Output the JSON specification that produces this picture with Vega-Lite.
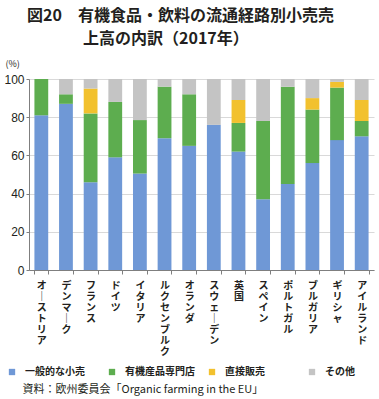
{
  "$schema": "https://vega.github.io/schema/vega-lite/v6.json",
  "width": 345,
  "height": 191,
  "autosize": {"type": "none"},
  "padding": {"left": 29, "top": 79, "right": 5, "bottom": 129},
  "background": "white",
  "title": {
    "text": ["図20　有機食品・飲料の流通経路別小売売", "\u200b\u3000\u3000\u3000\u2002上高の内訳（2017年）"],
    "anchor": "start",
    "frame": "group",
    "font": "Noto Sans CJK JP",
    "fontSize": 16,
    "fontWeight": "bold",
    "color": "#231f20",
    "lineHeight": 23,
    "dx": -2,
    "offset": 12
  },
  "config": {
    "font": "Noto Sans CJK JP",
    "view": {"stroke": null}
  },
  "data": {
    "values": [
      {"country": "オーストリア", "type": "一般的な小売", "k": 1, "value": 81},
      {"country": "オーストリア", "type": "有機産品専門店", "k": 2, "value": 19},
      {"country": "デンマーク", "type": "一般的な小売", "k": 1, "value": 87},
      {"country": "デンマーク", "type": "有機産品専門店", "k": 2, "value": 5},
      {"country": "デンマーク", "type": "その他", "k": 4, "value": 8},
      {"country": "フランス", "type": "一般的な小売", "k": 1, "value": 46},
      {"country": "フランス", "type": "有機産品専門店", "k": 2, "value": 36},
      {"country": "フランス", "type": "直接販売", "k": 3, "value": 13},
      {"country": "フランス", "type": "その他", "k": 4, "value": 5},
      {"country": "ドイツ", "type": "一般的な小売", "k": 1, "value": 59},
      {"country": "ドイツ", "type": "有機産品専門店", "k": 2, "value": 29},
      {"country": "ドイツ", "type": "その他", "k": 4, "value": 12},
      {"country": "イタリア", "type": "一般的な小売", "k": 1, "value": 50.5},
      {"country": "イタリア", "type": "有機産品専門店", "k": 2, "value": 28},
      {"country": "イタリア", "type": "その他", "k": 4, "value": 21.5},
      {"country": "ルクセンブルク", "type": "一般的な小売", "k": 1, "value": 69},
      {"country": "ルクセンブルク", "type": "有機産品専門店", "k": 2, "value": 27},
      {"country": "ルクセンブルク", "type": "その他", "k": 4, "value": 4},
      {"country": "オランダ", "type": "一般的な小売", "k": 1, "value": 65},
      {"country": "オランダ", "type": "有機産品専門店", "k": 2, "value": 27},
      {"country": "オランダ", "type": "その他", "k": 4, "value": 8},
      {"country": "スウェーデン", "type": "一般的な小売", "k": 1, "value": 76},
      {"country": "スウェーデン", "type": "その他", "k": 4, "value": 24},
      {"country": "英国", "type": "一般的な小売", "k": 1, "value": 62},
      {"country": "英国", "type": "有機産品専門店", "k": 2, "value": 15},
      {"country": "英国", "type": "直接販売", "k": 3, "value": 12},
      {"country": "英国", "type": "その他", "k": 4, "value": 11},
      {"country": "スペイン", "type": "一般的な小売", "k": 1, "value": 37},
      {"country": "スペイン", "type": "有機産品専門店", "k": 2, "value": 41},
      {"country": "スペイン", "type": "その他", "k": 4, "value": 22},
      {"country": "ポルトガル", "type": "一般的な小売", "k": 1, "value": 45},
      {"country": "ポルトガル", "type": "有機産品専門店", "k": 2, "value": 51},
      {"country": "ポルトガル", "type": "その他", "k": 4, "value": 4},
      {"country": "ブルガリア", "type": "一般的な小売", "k": 1, "value": 56},
      {"country": "ブルガリア", "type": "有機産品専門店", "k": 2, "value": 28},
      {"country": "ブルガリア", "type": "直接販売", "k": 3, "value": 6},
      {"country": "ブルガリア", "type": "その他", "k": 4, "value": 10},
      {"country": "ギリシャ", "type": "一般的な小売", "k": 1, "value": 68},
      {"country": "ギリシャ", "type": "有機産品専門店", "k": 2, "value": 27.5},
      {"country": "ギリシャ", "type": "直接販売", "k": 3, "value": 3},
      {"country": "ギリシャ", "type": "その他", "k": 4, "value": 1.5},
      {"country": "アイルランド", "type": "一般的な小売", "k": 1, "value": 70},
      {"country": "アイルランド", "type": "有機産品専門店", "k": 2, "value": 8},
      {"country": "アイルランド", "type": "直接販売", "k": 3, "value": 11},
      {"country": "アイルランド", "type": "その他", "k": 4, "value": 11}
    ]
  },
  "mark": {"type": "bar"},
  "encoding": {
    "x": {
      "field": "country",
      "type": "nominal",
      "sort": null,
      "scale": {"paddingInner": 0.44, "paddingOuter": 0.22},
      "axis": {
        "title": "資料：欧州委員会「Organic farming in the EU」",
        "titleFont": "Noto Sans CJK JP",
        "titleFontSize": 11,
        "titleFontWeight": "normal",
        "titleColor": "#231f20",
        "titleAnchor": "start",
        "titleAlign": "left",
        "titleBaseline": "middle",
        "titleX": -7,
        "titleY": 119,
        "labelAngle": 0,
        "labelExpr": "split(replace(datum.label, 'ー', '｜'), '')",
        "labelFontSize": 10,
        "labelLineHeight": 11,
        "labelBaseline": "top",
        "labelAlign": "center",
        "labelPadding": 6,
        "labelColor": "#231f20",
        "labelFontWeight": "bold",
        "domainColor": "#7f7f7f",
        "tickColor": "#7f7f7f",
        "tickBand": "extent",
        "tickSize": 4
      }
    },
    "y": {
      "field": "value",
      "type": "quantitative",
      "stack": "zero",
      "scale": {"domain": [0, 100], "nice": false},
      "axis": {
        "values": [0, 20, 40, 60, 80, 100],
        "title": "(%)",
        "titleAngle": 0,
        "titleFontSize": 9,
        "titleFontWeight": "normal",
        "titleColor": "#231f20",
        "titleAlign": "left",
        "titleBaseline": "middle",
        "titleX": -24,
        "titleY": -16,
        "labelFontSize": 12,
        "labelColor": "#231f20",
        "labelFont": "Liberation Sans",
        "labelPadding": 2,
        "domainColor": "#7f7f7f",
        "tickColor": "#7f7f7f",
        "tickSize": 3,
        "gridColor": "#d9d9d9"
      }
    },
    "color": {
      "field": "type",
      "type": "nominal",
      "scale": {
        "domain": ["一般的な小売", "有機産品専門店", "直接販売", "その他"],
        "range": ["#6f98d6", "#5dad4f", "#f2c12e", "#c4c4c4"]
      },
      "legend": {
        "title": null,
        "orient": "none",
        "direction": "horizontal",
        "legendX": -22,
        "legendY": 288,
        "symbolType": "square",
        "symbolSize": 40,
        "symbolStrokeWidth": 0,
        "labelFontSize": 10,
        "labelColor": "#231f20",
        "labelFontWeight": "bold",
        "labelOffset": 8,
        "gridAlign": "all",
        "columnPadding": 12
      }
    },
    "order": {"field": "k", "type": "quantitative"}
  }
}
